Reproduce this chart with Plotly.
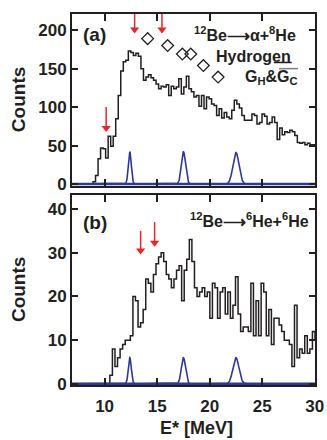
import numpy as np
import plotly.graph_objects as go

# ---------------- data ----------------
# Panel (a): 12Be -> alpha + 8He, counts per bin
a_start = 8.9
a_width = 0.24
a_counts = [3, 11, 33, 47, 46, 34, 62, 49, 62, 85, 115, 147, 159, 161, 173, 171, 167, 170, 166, 150,
            135, 139, 142, 138, 135, 130, 124, 127, 126, 129, 115, 127, 124, 126, 137, 117, 126, 140, 124, 120,
            113, 115, 101, 115, 98, 113, 111, 104, 102, 89, 98, 86, 93, 87, 85, 96, 109, 104, 99, 89,
            83, 83, 83, 91, 89, 78, 80, 91, 88, 78, 80, 87, 80, 58, 73, 64, 68, 67, 70, 68,
            63, 54, 53, 54, 51, 53, 51, 51]

# Panel (b): 12Be -> 6He + 6He
b_start = 10.5
b_width = 0.244
b_counts = [2, 8, 4, 6, 8, 9, 10, 10, 11, 20, 19, 13, 14, 17, 24, 23, 21, 25, 27.5, 29,
            30, 28, 25, 24, 22, 24, 26, 27, 19, 26, 28.5, 33, 28, 22, 20, 21, 22, 20, 21, 15,
            23, 22, 15, 21, 22, 16, 21, 15, 18, 24.5, 16, 12, 13, 13, 12, 23, 11, 19, 11, 23,
            21, 11, 17, 9, 15, 15, 13.5, 12, 10, 10, 9, 4, 18, 6, 8, 7, 11, 7, 8, 12, 10]

# Resolution peaks (blue)
peak_centers = [12.4, 17.5, 22.5]
peak_sigmas = [0.14, 0.20, 0.29]
a_peak_heights = [42, 42, 41]
b_peak_heights = [6, 6, 6]

# Open diamonds (panel a)
diam_x = [14.1, 16.0, 17.4, 18.2, 19.4, 20.8]
diam_y = [189, 180, 169, 169, 154, 139]

# Red arrows: x position, tail y, head y
a_arrow_x = [10.15, 12.86, 15.46]
a_arrow_tail = [100, 221, 221]
a_arrow_head = [68, 196, 196]
b_arrow_x = [13.43, 14.76]
b_arrow_tail = [35.0, 37.0]
b_arrow_head = [29.5, 31.3]

X_RANGE = [6.9, 30.02]
BLUE = "#2B3A96"
RED = "#E8252B"
INK = "#231F20"
FONT = "Liberation Sans, Arial, sans-serif"


def step_xy(start, width, counts):
    edges = [X_RANGE[0], start] + [start + width * (i + 1) for i in range(len(counts))]
    ys = [0] + list(counts) + [counts[-1]]
    return edges, ys


def peaks_xy(heights):
    xs = np.linspace(X_RANGE[0], X_RANGE[1], 1200)
    ys = np.zeros_like(xs)
    for c, s, h in zip(peak_centers, peak_sigmas, heights):
        ys = ys + h * np.exp(-0.5 * ((xs - c) / s) ** 2)
    return xs, ys


def add_arrows(fig, xs, tails, heads, xa, ya, head_off):
    sx, sy = [], []
    for x, t, h in zip(xs, tails, heads):
        sx += [x, x, None]
        sy += [t, h + head_off, None]
    fig.add_trace(go.Scatter(x=sx, y=sy, mode="lines", line=dict(color=RED, width=1.5),
                             xaxis=xa, yaxis=ya, showlegend=False, hoverinfo="skip"))
    fig.add_trace(go.Scatter(x=xs, y=[h + head_off for h in heads], mode="markers",
                             marker=dict(symbol="triangle-down", size=8, color=RED, line=dict(width=0)),
                             xaxis=xa, yaxis=ya, showlegend=False, hoverinfo="skip"))


fig = go.Figure()

ax_, ay_ = step_xy(a_start, a_width, a_counts)
fig.add_trace(go.Scatter(x=ax_, y=ay_, mode="lines", line=dict(color=INK, width=1.5, shape="hv"),
                         xaxis="x", yaxis="y", showlegend=False))
px, py = peaks_xy(a_peak_heights)
fig.add_trace(go.Scatter(x=px, y=py, mode="lines", line=dict(color=BLUE, width=1.6),
                         xaxis="x", yaxis="y", showlegend=False))
fig.add_trace(go.Scatter(x=X_RANGE, y=[0, 0], mode="lines", line=dict(color=BLUE, width=2.6),
                         xaxis="x", yaxis="y", showlegend=False))
fig.add_trace(go.Scatter(x=diam_x, y=diam_y, mode="markers",
                         marker=dict(symbol="diamond-open", size=9, color=INK, line=dict(width=1.3, color=INK)),
                         xaxis="x", yaxis="y", showlegend=False))
add_arrows(fig, a_arrow_x, a_arrow_tail, a_arrow_head, "x", "y", 5)

bx_, by_ = step_xy(b_start, b_width, b_counts)
fig.add_trace(go.Scatter(x=bx_, y=by_, mode="lines", line=dict(color=INK, width=1.5, shape="hv"),
                         xaxis="x2", yaxis="y2", showlegend=False))
px, py = peaks_xy(b_peak_heights)
fig.add_trace(go.Scatter(x=px, y=py, mode="lines", line=dict(color=BLUE, width=1.6),
                         xaxis="x2", yaxis="y2", showlegend=False))
fig.add_trace(go.Scatter(x=X_RANGE, y=[0, 0], mode="lines", line=dict(color=BLUE, width=2.6),
                         xaxis="x2", yaxis="y2", showlegend=False))
add_arrows(fig, b_arrow_x, b_arrow_tail, b_arrow_head, "x2", "y2", 1.0)

common_axis = dict(showline=True, linecolor=INK, linewidth=2, mirror="ticks", ticks="inside",
                   tickcolor=INK, tickwidth=1.5, showgrid=False, zeroline=False, automargin=False,
                   tickfont=dict(family=FONT, size=17, color=INK, weight="bold"))

fig.update_layout(
    width=327, height=440,
    margin=dict(l=72, r=12, t=14, b=55),
    paper_bgcolor="white", plot_bgcolor="white",
    xaxis=dict(common_axis, range=X_RANGE, domain=[0, 1], anchor="y", tickvals=[10, 15, 20, 25, 30],
               showticklabels=False, ticklen=7),
    yaxis=dict(common_axis, range=[-2.5, 221], domain=[0.5364, 1], anchor="x",
               tickvals=[0, 50, 100, 150, 200], ticklen=6),
    xaxis2=dict(common_axis, range=X_RANGE, domain=[0, 1], anchor="y2", tickvals=[10, 15, 20, 25, 30],
                ticklen=7, ticklabelstandoff=5),
    yaxis2=dict(common_axis, range=[-0.25, 43.2], domain=[0, 0.5121], anchor="x2",
                tickvals=[0, 10, 20, 30, 40], ticklen=6),
)

tf = dict(family=FONT, color=INK, weight="bold")
annotations = [
    dict(x=9.05, y=195, xref="x", yref="y", text="(a)", showarrow=False, font=dict(tf, size=19)),
    dict(x=28.4, y=195, xref="x", yref="y", text="<sup>12</sup>Be⟶α+<sup>8</sup>He", showarrow=False,
         xanchor="right", font=dict(tf, size=16)),
    dict(x=27.9, y=166, xref="x", yref="y", text="Hydrogen", showarrow=False, xanchor="right",
         font=dict(tf, size=16)),
    dict(x=28.6, y=139, xref="x", yref="y", text="G<sub>H</sub>&G<sub>C</sub>", showarrow=False,
         xanchor="right", font=dict(tf, size=16)),
    dict(x=9.05, y=37, xref="x2", yref="y2", text="(b)", showarrow=False, font=dict(tf, size=19)),
    dict(x=29.6, y=37.5, xref="x2", yref="y2", text="<sup>12</sup>Be⟶<sup>6</sup>He+<sup>6</sup>He",
         showarrow=False, xanchor="right", font=dict(tf, size=16)),
    # axis titles
    dict(x=0.514, y=-0.116, xref="paper", yref="paper", text="E* [MeV]", showarrow=False,
         xanchor="center", yanchor="middle", font=dict(tf, size=18)),
    dict(x=-0.222, y=0.768, xref="paper", yref="paper", text="Counts", textangle=-90, showarrow=False,
         xanchor="center", yanchor="middle", font=dict(tf, size=19)),
    dict(x=-0.222, y=0.256, xref="paper", yref="paper", text="Counts", textangle=-90, showarrow=False,
         xanchor="center", yanchor="middle", font=dict(tf, size=19)),
]
fig.update_layout(annotations=annotations)

fig.add_shape(type="line", xref="x", yref="y", x0=26.1, x1=27.8, y0=158, y1=158,
              line=dict(color=INK, width=1.5))
fig.add_shape(type="line", xref="x", yref="y", x0=26.6, x1=28.4, y0=150, y1=150,
              line=dict(color="#808080", width=1.5))

fig.write_html("out.html")
